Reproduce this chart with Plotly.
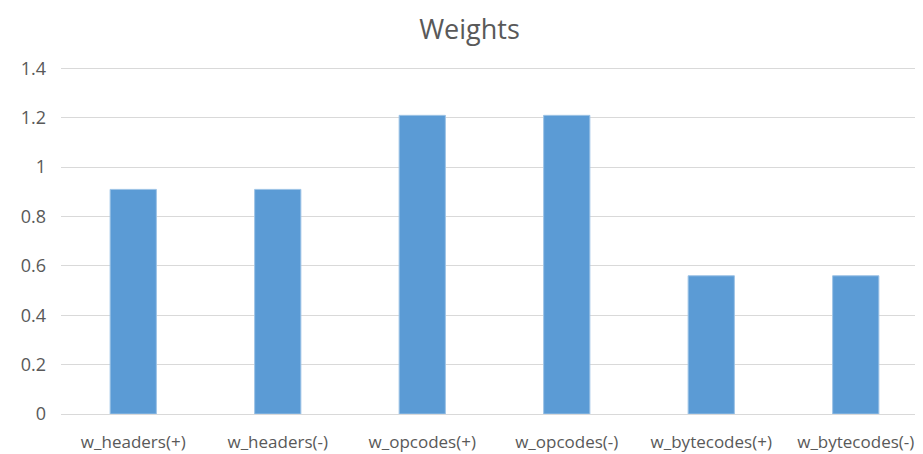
import plotly.graph_objects as go

categories = ["w_headers(+)", "w_headers(-)", "w_opcodes(+)", "w_opcodes(-)", "w_bytecodes(+)", "w_bytecodes(-)"]
values = [0.91, 0.91, 1.21, 1.21, 0.56, 0.56]
y_ticks = [0, 0.2, 0.4, 0.6, 0.8, 1, 1.2, 1.4]
y_tick_labels = ["0", "0.2", "0.4", "0.6", "0.8", "1", "1.2", "1.4"]

fig = go.Figure(go.Bar(
    x=categories, y=values,
    marker=dict(color="#5B9BD5", line=dict(color="#9DC3E6", width=1)),
))

fig.update_layout(
    width=923, height=454,
    paper_bgcolor="white", plot_bgcolor="white",
    margin=dict(l=53, r=3, t=57, b=48, autoexpand=False),
    title=dict(text="Weights", x=0.5, xanchor="center", y=0.953, yanchor="middle",
               font=dict(family="Open Sans, Liberation Sans, sans-serif", size=27, color="#595959")),
    bargap=0.68,
    showlegend=False,
    font=dict(family="Open Sans, Liberation Sans, sans-serif", size=16, color="#595959"),
)
fig.update_yaxes(range=[0, 1.414], tickvals=y_ticks, ticktext=y_tick_labels,
                 showgrid=True, gridcolor="#D9D9D9", gridwidth=1.3,
                 zeroline=False, showline=False, ticks="", ticklabelstandoff=14,
                 tickfont=dict(size=18, color="#595959"))
fig.update_xaxes(showline=True, linecolor="#D9D9D9", linewidth=1.3, ticks="",
                 ticklabelstandoff=12,
                 tickfont=dict(size=17, color="#595959"))

fig.write_html("out.html")
